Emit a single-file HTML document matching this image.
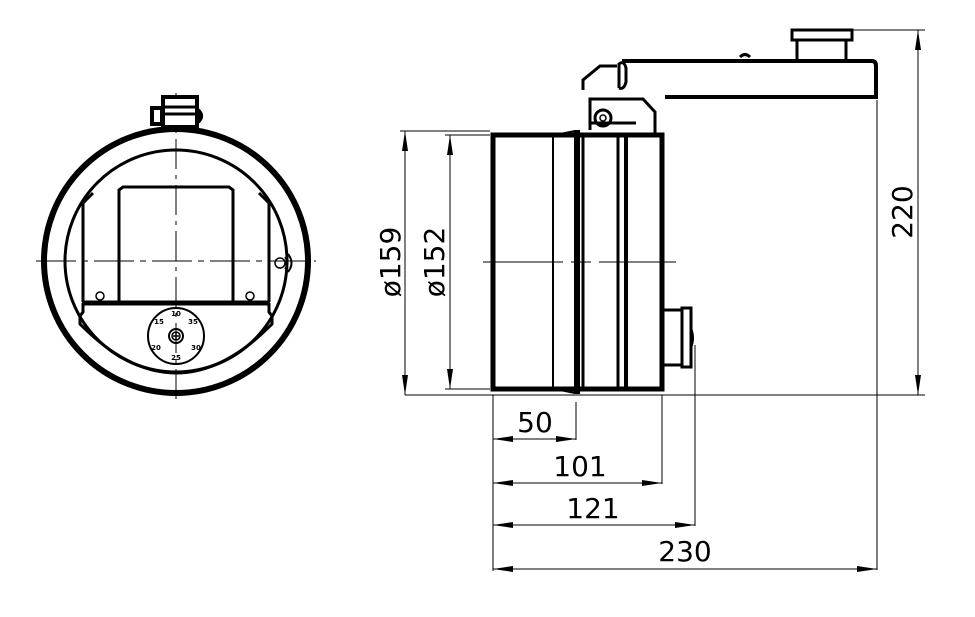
<!DOCTYPE html>
<html><head><meta charset="utf-8"><style>body{margin:0;background:#fff}svg{display:block}</style></head><body>
<svg width="975" height="617" viewBox="0 0 975 617" xmlns="http://www.w3.org/2000/svg" font-family="DejaVu Sans, Liberation Sans, sans-serif">
<defs><marker id="a" viewBox="0 0 20 6" refX="20" refY="3" markerWidth="20" markerHeight="6" orient="auto-start-reverse" markerUnits="userSpaceOnUse"><path d="M0,0 L20,3 L0,6z" fill="#000"/></marker></defs>
<g fill="none" stroke="#000">
<!-- left view -->
<line x1="176" y1="93" x2="176" y2="402" stroke-width="1" stroke-dasharray="30,6,4,6"/>
<line x1="36" y1="261" x2="316" y2="261" stroke-width="1" stroke-dasharray="40,6,6,6"/>
<circle cx="176" cy="261" r="132" stroke-width="6"/>
<circle cx="176" cy="261" r="111" stroke-width="3"/>
<rect x="163" y="97" width="34" height="30" stroke-width="4" fill="#fff"/>
<path d="M152 108 h10 v16 h-10z M198 110 q6 6 0 12" stroke-width="4"/>
<line x1="165" y1="107" x2="195" y2="107" stroke-width="3"/><line x1="165" y1="114" x2="195" y2="114" stroke-width="3"/>
<path d="M83 302 V203 L93 193 M269 302 V203 L259 193" stroke-width="3"/>
<path d="M119 302 V190 L123 187 H229 L233 190 V302" stroke-width="3"/>
<line x1="82" y1="303" x2="270" y2="303" stroke-width="5"/>
<path d="M83 303 V312 L80 316 V324 L82 326 Q176 420 270 326 L272 324 V316 L269 312 V303" stroke-width="3"/>
<circle cx="176" cy="336" r="28" stroke-width="2"/>
<circle cx="176" cy="336" r="7" stroke-width="2"/><circle cx="176" cy="336" r="4" stroke-width="1.5"/>
<path d="M173 336h6M176 333v6" stroke-width="1.5"/>
<circle cx="100" cy="296" r="4" stroke-width="1.5"/><circle cx="250" cy="296" r="4" stroke-width="1.5"/>
<circle cx="280" cy="263" r="5" stroke-width="1.5"/><path d="M285 257 q5 6 0 12 M288 254 q7 9 0 18" stroke-width="2"/>
<!-- right view body -->
<line x1="483" y1="262" x2="676" y2="262" stroke-width="1" stroke-dasharray="80,8,20,8"/>
<rect x="493" y="135" width="169" height="254" stroke-width="5"/>
<line x1="553" y1="135" x2="553" y2="389" stroke-width="2"/>
<path d="M555 135 L575 131 M555 389 L575 393" stroke-width="2"/>
<line x1="577" y1="130" x2="577" y2="394" stroke-width="6"/>
<line x1="583" y1="134" x2="583" y2="390" stroke-width="3"/>
<line x1="618" y1="134" x2="618" y2="390" stroke-width="3"/>
<line x1="626" y1="134" x2="626" y2="390" stroke-width="4"/>
<path d="M590 130 V99 H643 L655 112 V133 M590 123 H636" stroke-width="3"/>
<circle cx="603" cy="118" r="8" stroke-width="3"/><circle cx="603" cy="118" r="3" stroke-width="1.5"/>
<path d="M583 90 V80 L600 66 H617" stroke-width="3"/>
<path d="M619 88 V64 Q624 60 626 68 V82 Q624 90 619 88" stroke-width="3"/>
<path d="M622 61 H872 Q876 61 876 66 V97 H665" stroke-width="4"/>
<rect x="792" y="30" width="60" height="10" stroke-width="3"/>
<path d="M797 40 V59 M846 40 V59" stroke-width="3"/>
<path d="M740 57 q5-5 10 0" stroke-width="3"/>
<path d="M663 310 H682 M663 365 H682" stroke-width="3"/>
<rect x="682" y="308" width="9" height="59" stroke-width="3"/>
<path d="M691 328 q4 10 0 20" stroke-width="2"/>
<!-- dimension lines -->
<g stroke-width="1">
<line x1="850" y1="30" x2="925" y2="30"/>
<line x1="405" y1="395" x2="925" y2="395"/>
<line x1="400" y1="131" x2="490" y2="131"/>
<line x1="445" y1="135" x2="490" y2="135"/>
<line x1="445" y1="389" x2="490" y2="389"/>
<line x1="918" y1="30" x2="918" y2="395" marker-start="url(#a)" marker-end="url(#a)"/>
<line x1="405" y1="131" x2="405" y2="395" marker-start="url(#a)" marker-end="url(#a)"/>
<line x1="450" y1="135" x2="450" y2="389" marker-start="url(#a)" marker-end="url(#a)"/>
<line x1="493" y1="395" x2="493" y2="571"/>
<line x1="576" y1="402" x2="576" y2="440"/>
<line x1="662" y1="395" x2="662" y2="484"/>
<line x1="695" y1="345" x2="695" y2="526"/>
<line x1="877" y1="100" x2="877" y2="570"/>
<line x1="493" y1="439" x2="576" y2="439" marker-start="url(#a)" marker-end="url(#a)"/>
<line x1="493" y1="483" x2="662" y2="483" marker-start="url(#a)" marker-end="url(#a)"/>
<line x1="493" y1="525" x2="695" y2="525" marker-start="url(#a)" marker-end="url(#a)"/>
<line x1="493" y1="569" x2="877" y2="569" marker-start="url(#a)" marker-end="url(#a)"/>
</g>
</g>
<g font-size="28" fill="#000" text-anchor="middle">
<text x="535" y="432">50</text>
<text x="580" y="476">101</text>
<text x="593" y="518">121</text>
<text x="685" y="561">230</text>
<text transform="translate(912,212) rotate(-90)">220</text>
<text transform="translate(400,262) rotate(-90)">ø159</text>
<text transform="translate(444,262) rotate(-90)">ø152</text>
</g>
<g font-size="7" font-weight="bold" text-anchor="middle">
<text x="176" y="316">10</text><text x="193" y="324">35</text><text x="159" y="324">15</text>
<text x="156" y="350">20</text><text x="196" y="350">30</text><text x="176" y="360">25</text>
</g>
</svg>
</body></html>
